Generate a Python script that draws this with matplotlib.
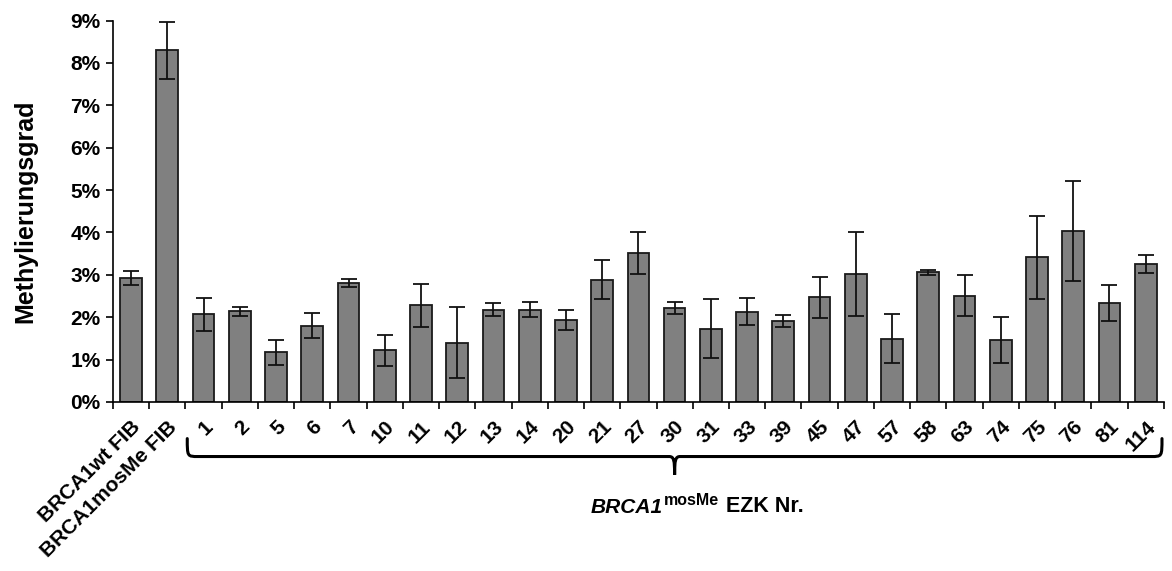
import numpy as np
import matplotlib
matplotlib.use("Agg")
import matplotlib.pyplot as plt
from matplotlib.path import Path
from matplotlib.patches import PathPatch
from matplotlib.ticker import PercentFormatter
import matplotlib.transforms as mtransforms

plt.rcParams['font.family'] = ['Liberation Sans', 'DejaVu Sans']

# Data (methylation degree in %)
labels = ["BRCA1wt FIB", "BRCA1mosMe FIB", "1", "2", "5", "6", "7", "10", "11", "12",
          "13", "14", "20", "21", "27", "30", "31", "33", "39", "45", "47", "57",
          "58", "63", "74", "75", "76", "81", "114"]
values = [2.92, 8.30, 2.07, 2.14, 1.17, 1.80, 2.81, 1.22, 2.28, 1.40,
          2.18, 2.18, 1.94, 2.88, 3.52, 2.21, 1.73, 2.13, 1.91, 2.47, 3.02, 1.49,
          3.06, 2.51, 1.46, 3.42, 4.03, 2.34, 3.25]
errors = [0.17, 0.67, 0.39, 0.11, 0.30, 0.29, 0.09, 0.36, 0.51, 0.83,
          0.16, 0.17, 0.24, 0.46, 0.49, 0.14, 0.69, 0.32, 0.14, 0.49, 0.99, 0.58,
          0.06, 0.48, 0.55, 0.98, 1.18, 0.42, 0.21]

fig = plt.figure(figsize=(11.72, 5.71), dpi=100)
ax = fig.add_axes([0.0964, 0.296, 0.8966, 0.668])

x = np.arange(len(labels))
ax.bar(x, values, width=0.6, color="#808080", edgecolor="#1a1a1a", linewidth=1.3,
       yerr=errors, error_kw=dict(ecolor="#111111", elinewidth=1.3, capsize=5.5, capthick=1.3))

ax.set_xlim(-0.5, len(labels) - 0.5)
ax.set_ylim(0, 9)
ax.set_yticks(np.arange(0, 10, 1))
ax.yaxis.set_major_formatter(PercentFormatter(decimals=0))

# tick marks at category boundaries, labels at centers
ax.set_xticks(np.arange(len(labels) + 1) - 0.5)
ax.set_xticklabels([])
ax.set_xticks(x, minor=True)
ax.set_xticklabels(labels, minor=True, rotation=45, ha="right", rotation_mode="anchor",
                   fontsize=15, fontweight="bold")
ax.tick_params(axis="x", which="minor", length=0, pad=11)
ax.tick_params(axis="x", which="major", length=5, width=1.2, direction="out")
ax.tick_params(axis="y", length=5, width=1.2, direction="out", labelsize=15, pad=4)
for t in ax.get_yticklabels():
    t.set_fontweight("bold")

for s in ["top", "right"]:
    ax.spines[s].set_visible(False)
for s in ["left", "bottom"]:
    ax.spines[s].set_linewidth(1.2)

ax.set_ylabel("Methylierungsgrad", fontsize=18, fontweight="bold", labelpad=24)

# curly brace under the EZK samples
trans = mtransforms.blended_transform_factory(ax.transData, ax.transAxes)
x0, x1 = 1.5, len(labels) - 0.5
xm = (x0 + x1) / 2
yb, yt, ytip = -0.143, -0.096, -0.191
verts = [(x0 + 0.05, yt), (x0 + 0.05, yb), (x0 + 0.05, yb), (x0 + 0.35, yb),
         (xm - 0.15, yb),
         (xm - 0.02, yb), (xm, yb - 0.01), (xm, ytip),
         (xm, yb - 0.01), (xm + 0.02, yb), (xm + 0.15, yb),
         (x1 - 0.35, yb),
         (x1 - 0.05, yb), (x1 - 0.05, yb), (x1 - 0.05, yt)]
codes = [Path.MOVETO, Path.CURVE4, Path.CURVE4, Path.CURVE4,
         Path.LINETO,
         Path.CURVE4, Path.CURVE4, Path.CURVE4,
         Path.CURVE4, Path.CURVE4, Path.CURVE4,
         Path.LINETO,
         Path.CURVE4, Path.CURVE4, Path.CURVE4]
brace = PathPatch(Path(verts, codes), transform=trans, fill=False, lw=2.2,
                  edgecolor="black", clip_on=False, capstyle="round")
ax.add_patch(brace)

# group label: BRCA1^mosMe EZK Nr.
t1 = ax.text(12.69, -0.29, "BRCA1", transform=trans, fontsize=15,
             fontweight="bold", style="italic", ha="left", va="baseline")
t2 = ax.annotate("mosMe", xy=(1, 0), xycoords=t1, xytext=(0.5, 6),
                 textcoords="offset points", fontsize=11.5, fontweight="bold",
                 ha="left", va="bottom")
t3 = ax.annotate("EZK Nr.", xy=(1, 0), xycoords=(t2, t1), xytext=(5, 0),
                 textcoords="offset points", fontsize=15.5, fontweight="bold",
                 ha="left", va="bottom")

fig.savefig("out.png", dpi=100)
